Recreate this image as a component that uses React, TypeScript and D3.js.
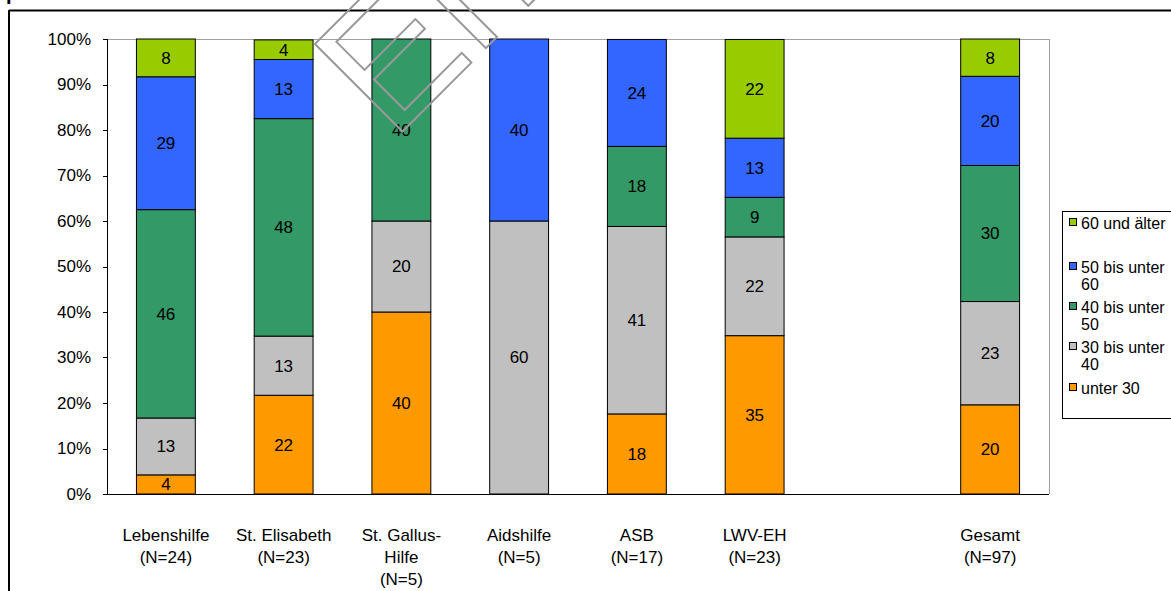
import React from "react";
import * as d3 from "d3";

const categories: string[][] = [
  ["Lebenshilfe", "(N=24)"],
  ["St. Elisabeth", "(N=23)"],
  ["St. Gallus-", "Hilfe", "(N=5)"],
  ["Aidshilfe", "(N=5)"],
  ["ASB", "(N=17)"],
  ["LWV-EH", "(N=23)"],
  [],
  ["Gesamt", "(N=97)"],
];

const legendLabels: string[][] = [
  ["60 und älter"],
  ["50 bis unter", "60"],
  ["40 bis unter", "50"],
  ["30 bis unter", "40"],
  ["unter 30"],
];
const colors = ["#FF9900", "#C0C0C0", "#339966", "#3366FF", "#99CC00"];

// percentages per category (empty slot = null)
const unter30 = [4.2, 21.7, 40, 0, 17.6, 34.8, null, 19.6];
const bis40 = [12.5, 13.0, 20, 60, 41.2, 21.7, null, 22.7];
const bis50 = [45.8, 47.8, 40, 0, 17.6, 8.7, null, 29.9];
const bis60 = [29.2, 13.0, 0, 40, 23.5, 13.0, null, 19.6];
const ab60 = [8.3, 4.3, 0, 0, 0, 21.7, null, 8.2];

const yTicks = [0, 10, 20, 30, 40, 50, 60, 70, 80, 90, 100];

export default function App() {
  const W = 1171, H = 591;
  const left = 107, right = 1049, top = 39, bottom = 494;
  const x = d3.scaleBand<number>().domain(d3.range(categories.length)).range([left, right]).paddingInner(0.5).paddingOuter(0.25);
  const y = d3.scaleLinear().domain([0, 100]).range([bottom, top]);
  const series = [unter30, bis40, bis50, bis60, ab60];
  const font = "'Liberation Sans', Arial, sans-serif";

  const segs: any[] = [];
  categories.forEach((_, i) => {
    if (series[0][i] === null) return;
    let acc = 0;
    series.forEach((s, k) => {
      const v = s[i] as number;
      if (v > 0) segs.push({ i, k, y0: acc, y1: acc + v, v });
      acc += v;
    });
  });

  return (
    <svg width={W} height={H} style={{ position: "absolute", left: 0, top: 0, background: "#fff" }} fontFamily={font}>
      <rect x={0} y={0} width={W} height={H} fill="#fff" />
      <text x={6} y={0} fontSize={20} fontWeight="bold" fill="#000">pro Alter</text>
      <line x1={9} y1={10.5} x2={W} y2={10.5} stroke="#000" strokeWidth={2} />
      <line x1={9} y1={10} x2={9} y2={H} stroke="#000" strokeWidth={2} />

      {/* plot frame */}
      <line x1={left} y1={top + 0.5} x2={right} y2={top + 0.5} stroke="#a0a0a0" strokeWidth={1} />
      <line x1={right + 0.5} y1={top} x2={right + 0.5} y2={bottom} stroke="#a0a0a0" strokeWidth={1} />

      {segs.map((s, j) => (
        <rect key={j} x={x(s.i)!} y={y(s.y1)} width={x.bandwidth()} height={y(s.y0) - y(s.y1)}
          fill={colors[s.k]} stroke="#000" strokeWidth={1} />
      ))}
      {segs.map((s, j) => (
        <text key={"t" + j} x={x(s.i)! + x.bandwidth() / 2} y={(y(s.y0) + y(s.y1)) / 2} dy="0.35em"
          textAnchor="middle" fontSize={17} fill="#000">{Math.round(s.v)}</text>
      ))}

      {/* axes */}
      <line x1={left + 0.5} y1={top} x2={left + 0.5} y2={bottom} stroke="#000" />
      <line x1={left} y1={bottom + 0.5} x2={right} y2={bottom + 0.5} stroke="#000" />
      {yTicks.map((t) => (
        <g key={t}>
          <line x1={left - 4} x2={left} y1={Math.round(y(t)) + 0.5} y2={Math.round(y(t)) + 0.5} stroke="#000" />
          <text x={91} y={y(t)} dy="0.35em" textAnchor="end" fontSize={17} fill="#000">{t}%</text>
        </g>
      ))}
      {categories.map((c, i) => (
        <text key={i} x={x(i)! + x.bandwidth() / 2} y={541} textAnchor="middle" fontSize={17} fill="#000">
          {c.map((line, l) => (
            <tspan key={l} x={x(i)! + x.bandwidth() / 2} dy={l === 0 ? 0 : 22}>{line}</tspan>
          ))}
        </text>
      ))}

      {/* legend */}
      <rect x={1062.5} y={211.5} width={120} height={207} fill="#fff" stroke="#000" strokeWidth={1} />
      {legendLabels.map((lab, idx) => {
        const ys = [223, 267, 307, 347, 388][idx];
        const k = 4 - idx;
        return (
          <g key={idx}>
            <rect x={1069.5} y={ys - 4.5} width={7} height={7} fill={colors[k]} stroke="#000" />
            <text x={1081} y={ys} fontSize={16} fill="#000">
              {lab.map((line, l) => (
                <tspan key={l} x={1081} dy={l === 0 ? "0.35em" : 17}>{line}</tspan>
              ))}
            </text>
          </g>
        );
      })}

      {/* watermark */}
      <text x={0} y={0} transform="translate(392,142) rotate(-45)" fontSize={180}
        fill="none" stroke="#999" strokeWidth={2} fontFamily={font}>Entwurf</text>
    </svg>
  );
}
